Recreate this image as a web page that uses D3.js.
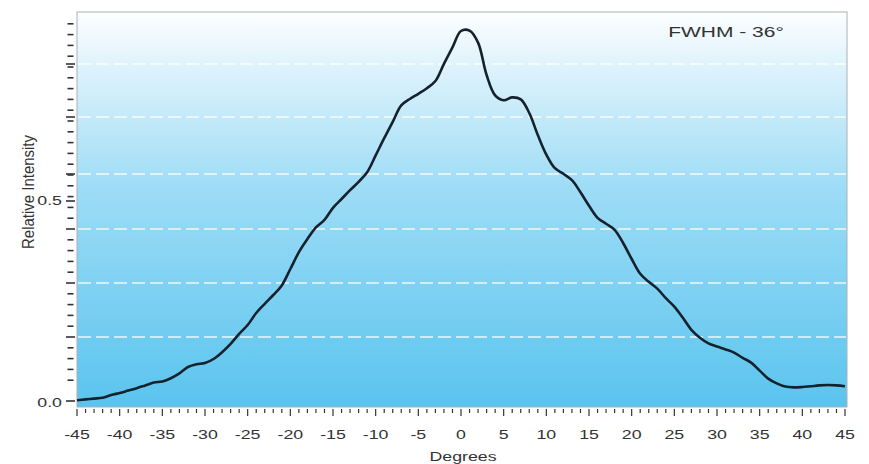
<!DOCTYPE html>
<html>
<head>
<meta charset="utf-8">
<script src="https://cdn.jsdelivr.net/npm/d3@7"></script>
<style>
  html, body { margin: 0; padding: 0; background: #ffffff; }
  svg { display: block; }
  text { font-family: "Liberation Sans", Arial, sans-serif; fill: #333; }
</style>
</head>
<body>
<svg id="chart" width="869" height="464"></svg>
<script>
// ---- data ----
const degrees = d3.range(-45, 46);
const intensity = [
  0.002, 0.004, 0.006, 0.008, 0.015, 0.020, 0.026, 0.032, 0.039, 0.046,
  0.049, 0.057, 0.069, 0.085, 0.092, 0.095, 0.105, 0.122, 0.143, 0.168,
  0.190, 0.220, 0.243, 0.265, 0.289, 0.330, 0.372, 0.405, 0.434, 0.453,
  0.483, 0.505, 0.527, 0.548, 0.572, 0.614, 0.657, 0.698, 0.739, 0.755,
  0.768, 0.782, 0.800, 0.843, 0.884, 0.925, 0.926, 0.896, 0.815, 0.764,
  0.752, 0.759, 0.754, 0.720, 0.665, 0.616, 0.582, 0.568, 0.552, 0.522,
  0.488, 0.458, 0.443, 0.428, 0.395, 0.355, 0.318, 0.298, 0.281, 0.257,
  0.236, 0.208, 0.178, 0.158, 0.144, 0.136, 0.129, 0.121, 0.108, 0.096,
  0.076, 0.056, 0.044, 0.036, 0.034, 0.035, 0.037, 0.039, 0.040, 0.039,
  0.037
];
const xTickLabels = [-45, -40, -35, -30, -25, -20, -15, -10, -5, 0, 5, 10, 15, 20, 25, 30, 35, 40, 45];
const yTickLabels = [0.0, 0.5];
const gridValues = [0.16, 0.295, 0.43, 0.5675, 0.71, 0.8425];
const titleText = "FWHM - 36\u00B0";
const xTitle = "Degrees";
const yTitle = "Relative Intensity";

// ---- layout ----
const svg = d3.select("#chart");
const x = d3.scaleLinear().domain([-45, 45]).range([77, 845]);
const y = d3.scaleLinear().domain([0, 1]).range([401, 1]);
const plotTop = y(0.9725), plotBottom = y(-0.015), plotLeft = 77, plotRight = 847;
const hs = 1.42; // horizontal stretch of the text in the reference

// background gradient
const defs = svg.append("defs");
const grad = defs.append("linearGradient").attr("id", "bg")
  .attr("x1", 0).attr("y1", 0).attr("x2", 0).attr("y2", 1);
[["0%", "#fdfeff"], ["12%", "#e2f4fc"], ["45%", "#9ddcf6"], ["100%", "#5ac4ee"]]
  .forEach(([o, c]) => grad.append("stop").attr("offset", o).attr("stop-color", c));

svg.append("rect")
  .attr("x", plotLeft).attr("y", plotTop)
  .attr("width", plotRight - plotLeft).attr("height", plotBottom - plotTop)
  .attr("fill", "url(#bg)").attr("stroke", "#a9b2b8").attr("stroke-width", 1);

// dashed grid lines
svg.append("g").selectAll("line").data(gridValues).join("line")
  .attr("x1", plotLeft + 1).attr("x2", plotRight - 1)
  .attr("y1", d => y(d)).attr("y2", d => y(d))
  .attr("stroke", "#ffffff").attr("stroke-opacity", 0.85)
  .attr("stroke-width", 1.3).attr("stroke-dasharray", "13,5");

// curve
const line = d3.line()
  .x((d, i) => x(degrees[i]))
  .y(d => y(d))
  .curve(d3.curveCatmullRom.alpha(0.5));
svg.append("path").datum(intensity)
  .attr("d", line)
  .attr("fill", "none").attr("stroke", "#15222e")
  .attr("stroke-width", 2.6).attr("stroke-linejoin", "round");

// x axis ticks (below the plot)
const xMinor = d3.range(-45, 46);
const xg = svg.append("g");
xg.selectAll("line").data(xMinor).join("line")
  .attr("x1", d => x(d)).attr("x2", d => x(d))
  .attr("y1", 409).attr("y2", d => (d % 5 === 0) ? 416 : 413)
  .attr("stroke", "#333").attr("stroke-width", 1.2);
xg.selectAll("text").data(xTickLabels).join("text")
  .attr("transform", d => `translate(${x(d)},439) scale(${hs},1)`)
  .attr("text-anchor", "middle").attr("font-size", 12.5)
  .text(d => d);

// y axis ticks (left of the plot)
const minorStep = (gridValues[1] - gridValues[0]) / 5;
const yMinor = d3.range(gridValues[0] - 4 * minorStep, 0.96, minorStep)
  .filter(v => !gridValues.some(g => Math.abs(g - v) < 1e-6));
const yg = svg.append("g");
yg.selectAll("line.minor").data(yMinor).join("line").attr("class", "minor")
  .attr("x1", 67.5).attr("x2", 73.5)
  .attr("y1", d => y(d)).attr("y2", d => y(d))
  .attr("stroke", "#333").attr("stroke-width", 1.6);
yg.selectAll("line.major").data(gridValues.concat(yTickLabels)).join("line").attr("class", "major")
  .attr("x1", 66).attr("x2", 75)
  .attr("y1", d => y(d)).attr("y2", d => y(d))
  .attr("stroke", "#333").attr("stroke-width", 1.6);
yg.selectAll("text").data(yTickLabels).join("text")
  .attr("transform", d => `translate(62,${y(d) + 4 + (d === 0 ? 2 : 0)}) scale(${hs},1)`)
  .attr("text-anchor", "end").attr("font-size", 12.5)
  .text(d => d3.format(".1f")(d));

// axis titles
svg.append("text")
  .attr("transform", `translate(463,461) scale(${hs},1)`)
  .attr("text-anchor", "middle").attr("font-size", 12.5)
  .text(xTitle);
svg.append("text")
  .attr("transform", `translate(34,192) scale(1.3,1) rotate(-90)`)
  .attr("text-anchor", "middle").attr("font-size", 12.5)
  .attr("textLength", 114).attr("lengthAdjust", "spacingAndGlyphs")
  .text(yTitle);

// annotation
svg.append("text")
  .attr("transform", `translate(726,37) scale(1.5,1)`)
  .attr("text-anchor", "middle").attr("font-size", 14)
  .text(titleText);
</script>
</body>
</html>
